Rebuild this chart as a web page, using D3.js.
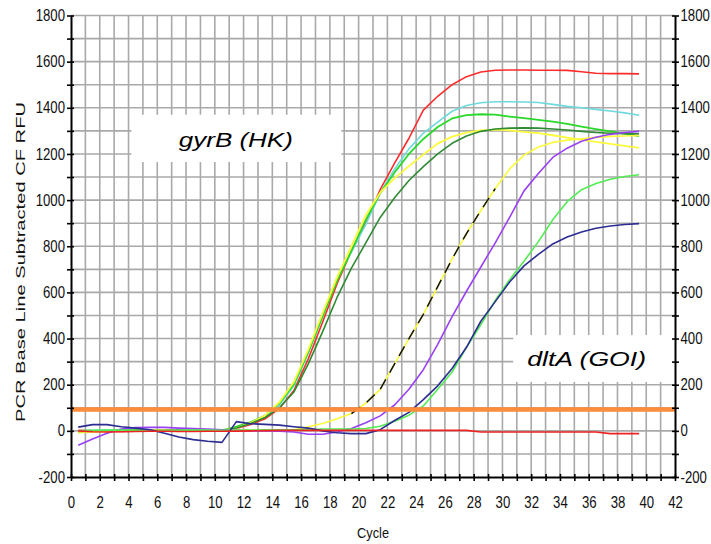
<!DOCTYPE html>
<html>
<head>
<meta charset="utf-8">
<script src="https://cdn.jsdelivr.net/npm/d3@7"></script>
<style>
  html, body { margin: 0; padding: 0; background: #fff; }
  svg { display: block; }
  .tick text { font-family: "Liberation Sans", Arial, sans-serif; font-size: 13.2px; fill: #111; }
</style>
</head>
<body>
<svg id="chart" width="711" height="544"></svg>
<script>
// Cycle numbers (each reading is plotted at the middle of its cycle interval)
const cycles = [1,2,3,4,5,6,7,8,9,10,11,12,13,14,15,16,17,18,19,20,
                21,22,23,24,25,26,27,28,29,30,31,32,33,34,35,36,37,38,39,40];

// gyrB (housekeeping gene) wells, baseline-subtracted RFU
const gyrbRed = [2,0,-2,-3,-2,0,2,2,0,-2, 0,10,28,52,98,175,312,472,638,780,
                 905,1045,1160,1268,1390,1450,1500,1535,1555,1563, 1564,1564,1563,1563,1562,1556,1550,1548,1548,1547];
const gyrbCyan = [0,2,3,2,0,-2,0,2,3,2, 0,15,35,62,112,195,335,495,660,775,
                  895,1030,1135,1222,1290,1338,1385,1410,1422,1426, 1426,1425,1423,1415,1406,1400,1393,1386,1378,1368];
const gyrbGreen = [-5,-2,0,2,3,2,0,0,2,3, 2,18,38,66,120,202,342,497,650,780,
                   915,1030,1120,1200,1265,1317,1354,1368,1372,1370, 1362,1355,1348,1340,1330,1318,1308,1298,1288,1277];
const gyrbYellow = [-8,-4,-2,0,0,2,2,0,0,2, 2,12,35,66,125,212,352,512,665,800,
                    935,1032,1095,1147,1197,1245,1275,1292,1302,1305, 1302,1296,1290,1281,1271,1261,1252,1244,1235,1226];
const gyrbDarkGreen = [-3,-2,0,0,2,3,3,2,0,-2, 0,12,32,58,100,168,290,430,578,705,
                       815,925,1010,1085,1145,1200,1246,1278,1298,1308, 1312,1313,1312,1308,1304,1298,1293,1290,1288,1287];

// dltA (gene of interest) wells
const dltaYellow = [-3,-2,0,0,0,2,2,0,0,0, 2,3,3,2,2,5,18,32,52,75,
                    120,180,290,400,505,625,745,855,955,1050, 1135,1195,1230,1250,1260,1266,1272,1276,1278,1280];
const dltaPurple = [-62,-35,-10,8,14,15,15,12,10,8, 5,2,0,0,-2,-5,-15,-15,-5,10,
                    35,65,112,180,265,375,495,605,710,815, 925,1040,1115,1185,1225,1255,1272,1285,1293,1298];
const dltaGreen = [0,2,3,3,2,0,0,2,3,3, 2,2,3,5,5,5,6,8,8,8,
                   10,20,42,68,108,180,255,362,460,565, 655,735,820,915,993,1045,1072,1090,1102,1110];
const dltaNavy = [16,27,27,18,12,5,-10,-27,-38,-45, -50,40,31,28,25,18,12,0,-8,-12,
                  -12,5,45,80,135,195,270,362,475,560, 645,715,765,810,840,862,878,888,894,898];
const dltaRed = [0,-4,-5,-4,-3,-2,-2,-3,-3,-2, -2,-1,0,1,2,2,2,2,2,2,
                 2,2,2,2,2,2,2,2,-5,-5, -5,-5,-5,-5,-5,-5,-5,-12,-12,-12];

// Threshold line and axis ticks
const thresholdRFU = 93;
const xTicks = [0,1,2,3,4,5,6,7,8,9,10,11,12,13,14,15,16,17,18,19,20,21,
                22,23,24,25,26,27,28,29,30,31,32,33,34,35,36,37,38,39,40,41,42];
const yTicks = [-200,-100,0,100,200,300,400,500,600,700,800,900,1000,
                1100,1200,1300,1400,1500,1600,1700,1800];
const xTitle = "Cycle";
const yTitle = "PCR Base Line Subtracted CF RFU";
const labelGyrB = "gyrB (HK)";
const labelDltA = "dltA (GOI)";

// Drawing styles per trace
const traces = [
  { values: gyrbRed,       color: "#ff2b2b", width: 1.6 },
  { values: gyrbCyan,      color: "#6fd9dc", width: 1.6 },
  { values: gyrbGreen,     color: "#2ad82a", width: 1.8 },
  { values: gyrbYellow,    color: "#fbfb3c", width: 1.8 },
  { values: gyrbDarkGreen, color: "#2f8a34", width: 1.6 },
  { values: dltaYellow,    color: "#fbfb3c", width: 1.6 },
  { values: dltaPurple,    color: "#9a40f5", width: 1.6 },
  { values: dltaGreen,     color: "#52ec52", width: 1.6 },
  { values: dltaNavy,      color: "#2c2c92", width: 1.6 },
  { values: dltaRed,       color: "#ee2222", width: 1.6 }
];

const svg = d3.select("#chart");
const x = d3.scaleLinear().domain([0, 42]).range([71, 675]);
const y = d3.scaleLinear().domain([-200, 1800]).range([477, 15.5]);

// Grid
const grid = svg.append("g").attr("stroke", "#a9a9a9").attr("stroke-width", 1.6);
grid.selectAll(".v").data(xTicks.filter(d => d > 0 && d < 42)).join("line")
  .attr("x1", d => x(d)).attr("x2", d => x(d))
  .attr("y1", y(1800)).attr("y2", y(-200));
grid.selectAll(".h").data(yTicks.filter(d => d > -200)).join("line")
  .attr("y1", d => y(d)).attr("y2", d => y(d))
  .attr("x1", x(0)).attr("x2", x(42));

// Label boxes
svg.append("rect")
  .attr("x", x(4.2)).attr("y", y(1370))
  .attr("width", x(18.8) - x(4.2)).attr("height", y(1165) - y(1370))
  .attr("fill", "#fff");
svg.append("rect")
  .attr("x", x(30.75)).attr("y", y(415))
  .attr("width", x(42) - x(30.75)).attr("height", y(212) - y(415))
  .attr("fill", "#fff");

const labelFont = "'Liberation Sans', Arial, sans-serif";
svg.append("text")
  .attr("x", x(7.5)).attr("y", y(1232))
  .attr("font-family", labelFont).attr("font-style", "italic").attr("font-size", 20)
  .attr("textLength", 114).attr("lengthAdjust", "spacingAndGlyphs")
  .text(labelGyrB);
svg.append("text")
  .attr("x", x(31.72)).attr("y", y(280))
  .attr("font-family", labelFont).attr("font-style", "italic").attr("font-size", 20)
  .attr("textLength", 119).attr("lengthAdjust", "spacingAndGlyphs")
  .text(labelDltA);

// Amplification traces
const line = d3.line()
  .x((d, i) => x(cycles[i] - 0.5))
  .y(d => y(d));

svg.append("g").selectAll("path").data(traces).join("path")
  .attr("d", d => line(d.values))
  .attr("fill", "none")
  .attr("stroke", d => d.color)
  .attr("stroke-width", d => d.width)
  .attr("stroke-linejoin", "round");

// Dashed overlay on the exponential phase of the dltA yellow well
const dashIdx = cycles.map((c, i) => i).filter(i => cycles[i] >= 20 && cycles[i] <= 30);
svg.append("path")
  .attr("d", d3.line().x(i => x(cycles[i] - 0.5)).y(i => y(dltaYellow[i]))(dashIdx))
  .attr("fill", "none").attr("stroke", "#111").attr("stroke-width", 1.5)
  .attr("stroke-dasharray", "11,8");

// Threshold
svg.append("line")
  .attr("x1", x(0)).attr("x2", x(42))
  .attr("y1", y(thresholdRFU)).attr("y2", y(thresholdRFU))
  .attr("stroke", "#ff8c3c").attr("stroke-width", 4.5);

// Axes: tall, narrow tick numerals (vertical stretch of the glyphs)
function styleAxis(g) {
  g.select(".domain").attr("stroke", "#000").attr("stroke-width", 2);
  g.selectAll(".tick line").attr("stroke", "#000").attr("stroke-width", 1.6);
  g.selectAll(".tick text")
    .attr("font-family", null).attr("font-size", null)
    .attr("transform", "scale(1,1.2)");
}
const yFmt = d => (d % 200 === 0 ? d : "");
const left = svg.append("g").attr("transform", `translate(${x(0)},0)`)
  .call(d3.axisLeft(y).tickValues(yTicks).tickFormat(yFmt).tickSize(4).tickSizeOuter(0).tickPadding(2));
left.selectAll(".tick line").attr("x1", 3);
styleAxis(left);

const right = svg.append("g").attr("transform", `translate(${x(42)},0)`)
  .call(d3.axisRight(y).tickValues(yTicks).tickFormat(yFmt).tickSize(4).tickSizeOuter(0).tickPadding(1.5));
right.selectAll(".tick line").attr("x1", -3);
styleAxis(right);

const bottom = svg.append("g").attr("transform", `translate(0,${y(-200)})`)
  .call(d3.axisBottom(x).tickValues(xTicks).tickFormat(d => (d % 2 === 0 ? d : "")).tickSize(4).tickSizeOuter(0).tickPadding(12.5));
bottom.selectAll(".tick line").attr("y1", -3);
styleAxis(bottom);

// Axis titles
svg.append("text")
  .attr("x", (x(0) + x(42)) / 2).attr("y", 538)
  .attr("text-anchor", "middle")
  .attr("font-family", "'Liberation Sans', Arial, sans-serif")
  .attr("font-size", 15)
  .attr("fill", "#111")
  .attr("textLength", 32).attr("lengthAdjust", "spacingAndGlyphs")
  .text(xTitle);
svg.append("text")
  .attr("transform", "translate(25,262) rotate(-90)")
  .attr("text-anchor", "middle")
  .attr("font-family", "'Liberation Sans', Arial, sans-serif")
  .attr("font-size", 13.5)
  .attr("fill", "#111")
  .attr("textLength", 320).attr("lengthAdjust", "spacingAndGlyphs")
  .text(yTitle);
</script>
</body>
</html>
